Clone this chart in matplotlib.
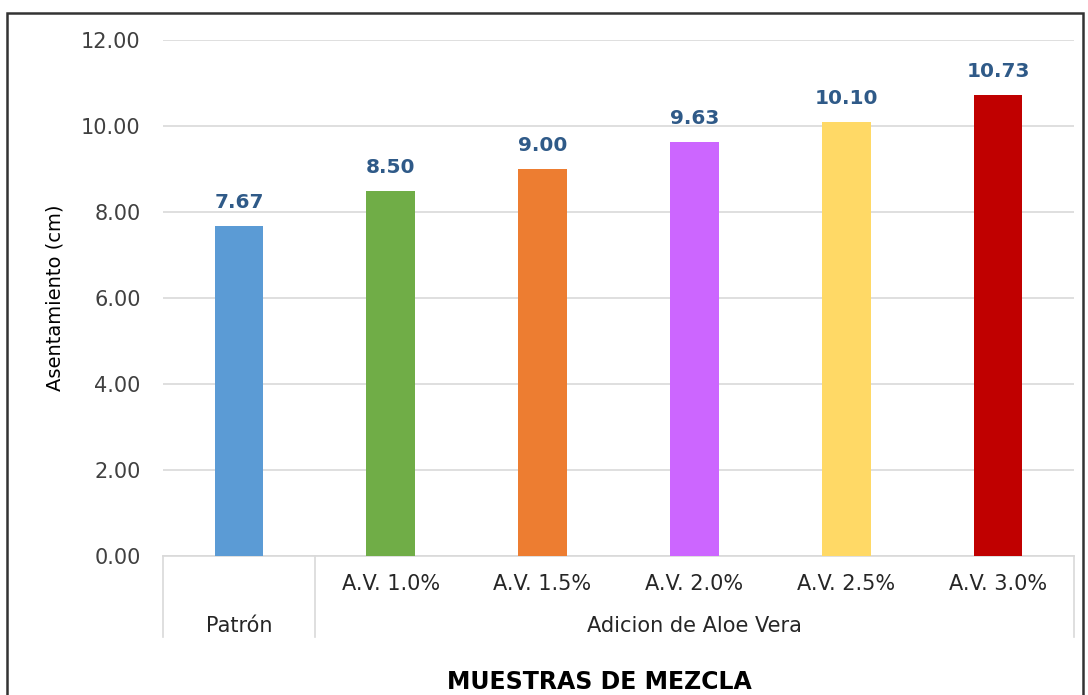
import matplotlib
matplotlib.use("Agg")
from matplotlib import pyplot as plt
from matplotlib import transforms
from matplotlib.patches import Rectangle

# Data
mezclas = ['Patrón', 'A.V. 1.0%', 'A.V. 1.5%', 'A.V. 2.0%', 'A.V. 2.5%', 'A.V. 3.0%']
asentamiento = [7.67, 8.50, 9.00, 9.63, 10.10, 10.73]
colores = ['#5B9BD5', '#70AD47', '#ED7D31', '#CC66FF', '#FFD966', '#C00000']
grupo_aloe = 'Adicion de Aloe Vera'
yticks = [0, 2, 4, 6, 8, 10, 12]

plt.rcParams['font.family'] = ['DejaVu Sans']

fig = plt.figure(figsize=(10.88, 6.95), dpi=100)
ax = fig.add_axes([0.1498, 0.2, 0.8373, 0.7424])

x = list(range(len(mezclas)))
ax.bar(x, asentamiento, width=0.32, color=colores, zorder=3)

# value labels above the bars
for xi, v in zip(x, asentamiento):
	ax.annotate(f'{v:.2f}', (xi, v), xytext=(0, 10), textcoords='offset points',
		ha='center', va='bottom', fontsize=14.5, fontweight='bold', color='#2F5A88')

ax.set_xlim(-0.5, len(mezclas) - 0.5)
ax.set_ylim(0, 12)
ax.set_yticks(yticks)
ax.set_yticklabels([f'{t:.2f}' for t in yticks])
ax.tick_params(axis='y', length=0, pad=16, labelsize=15, labelcolor='#404040')
ax.set_xticks([])
ax.grid(axis='y', color='#D9D9D9', linewidth=1.2, zorder=0)
for s in ['top', 'right', 'left']:
	ax.spines[s].set_visible(False)
ax.spines['bottom'].set_color('#D9D9D9')
ax.spines['bottom'].set_linewidth(1.2)

ax.set_ylabel('Asentamiento (cm)', fontsize=14, color='#000000', labelpad=12)

# two level category axis
trans = transforms.blended_transform_factory(ax.transData, ax.transAxes)
for xb in [-0.5, 0.5, len(mezclas) - 0.5]:
	ax.plot([xb, xb], [0, -0.157], transform=trans, color='#D9D9D9', linewidth=1.2, clip_on=False)
for xi, m in zip(x[1:], mezclas[1:]):
	ax.text(xi, -0.054, m, transform=trans, ha='center', va='center', fontsize=15, color='#262626')
ax.text(0, -0.135, mezclas[0], transform=trans, ha='center', va='center', fontsize=15, color='#262626')
ax.text(3.0, -0.135, grupo_aloe, transform=trans, ha='center', va='center', fontsize=15, color='#262626')

fig.text(0.551, 1 - 682 / 695, 'MUESTRAS DE MEZCLA', ha='center', va='center',
	fontsize=17, fontweight='bold', color='#000000')

# outer frame of the chart (cut off at the bottom)
fig.patches.append(Rectangle((7 / 1088, -0.05), 1076 / 1088, 1.05 - 13 / 695,
	transform=fig.transFigure, fill=False, edgecolor='#333333', linewidth=1.8))

fig.savefig('out.png', dpi=100)
